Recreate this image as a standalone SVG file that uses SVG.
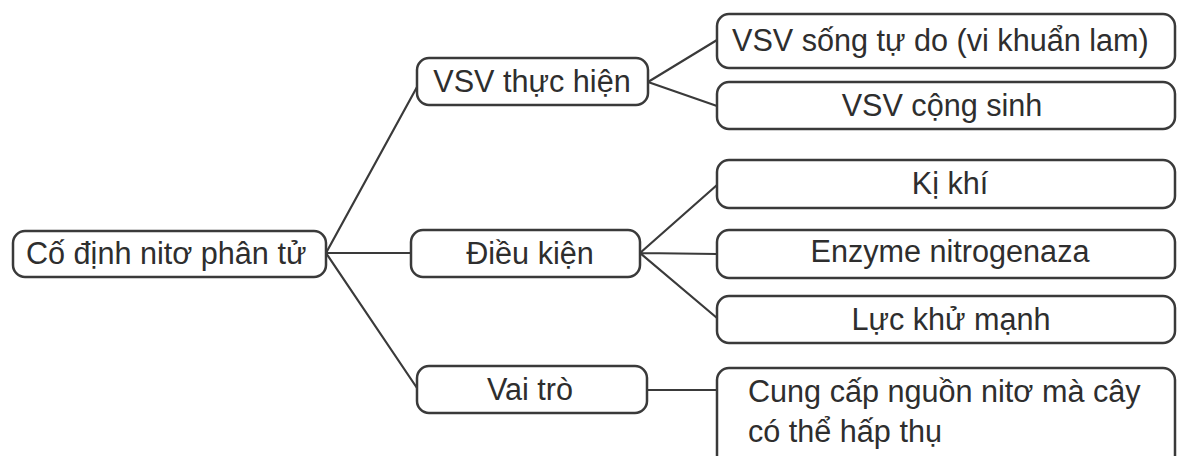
<svg xmlns="http://www.w3.org/2000/svg" width="1177" height="456" viewBox="0 0 1177 456">
<style>
.box{fill:#fff;stroke:#3a3a3a;stroke-width:2.5}
.t{font-family:"Liberation Sans",Arial,sans-serif;font-size:30.6px;fill:#2e2e2e}
.m{text-anchor:middle}
.ln{stroke:#3a3a3a;stroke-width:2.2;fill:none}
</style>
<rect width="1177" height="456" fill="#fff"/>
<g id="connectors">
<path class="ln" d="M326,253 L417,87 M326,253 L411,253 M326,253 L417,388"/>
<path class="ln" d="M648,82 L717,40 M648,82 L717,106"/>
<path class="ln" d="M640,253 L717,185 M640,253 L717,254 M640,253 L717,318"/>
<path class="ln" d="M647,390 L717,390"/>
</g>
<g id="root"><rect class="box" x="13" y="231" width="313" height="46" rx="12"/><text class="t" x="26" y="264">Cố định nitơ phân tử</text></g>
<g id="vsv"><rect class="box" x="417" y="58" width="231" height="47" rx="12"/><text class="t m" x="532" y="92">VSV thực hiện</text></g>
<g id="dieukien"><rect class="box" x="411" y="230" width="229" height="47" rx="12"/><text class="t m" x="530" y="264">Điều kiện</text></g>
<g id="vaitro"><rect class="box" x="417" y="366" width="230" height="47" rx="12"/><text class="t m" x="530" y="400">Vai trò</text></g>
<g id="tudo"><rect class="box" x="717" y="14" width="458" height="54" rx="12"/><text class="t" x="732" y="51">VSV sống tự do (vi khuẩn lam)</text></g>
<g id="congsinh"><rect class="box" x="717" y="82" width="458" height="47" rx="12"/><text class="t m" x="942" y="116">VSV cộng sinh</text></g>
<g id="kikhi"><rect class="box" x="717" y="160" width="458" height="48" rx="12"/><text class="t m" x="950" y="194">Kị khí</text></g>
<g id="enzyme"><rect class="box" x="717" y="230" width="458" height="48" rx="12"/><text class="t m" x="950" y="262">Enzyme nitrogenaza</text></g>
<g id="lucku"><rect class="box" x="717" y="296" width="458" height="47" rx="12"/><text class="t m" x="951" y="330">Lực khử mạnh</text></g>
<g id="cungcap"><rect class="box" x="717" y="368" width="458" height="110" rx="12"/><text class="t" x="748" y="402">Cung cấp nguồn nitơ mà cây</text><text class="t" x="748" y="442">có thể hấp thụ</text></g>
</svg>
